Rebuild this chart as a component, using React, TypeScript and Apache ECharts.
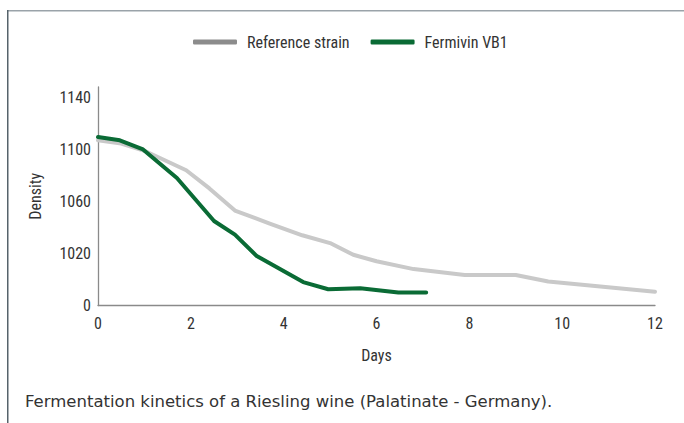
import React, { useEffect, useRef } from "react";
import * as echarts from "echarts";

const refDays = [0, 0.5, 1, 1.9, 2.4, 2.95, 3.7, 4.4, 5, 5.5, 6, 6.8, 7.9, 9, 9.7, 12];
const refDensity = [1107, 1104.5, 1099, 1084, 1070, 1053, 1043, 1034, 1028, 1019, 1014, 1008, 1003.5, 1003.5, 998.5, 990.5];
const vbDays = [0, 0.47, 0.97, 1.7, 2.5, 2.95, 3.42, 4.42, 4.96, 5.65, 6.47, 7.07];
const vbDensity = [1109.5, 1107, 1100, 1078, 1045, 1034.5, 1018, 998, 992.5, 993.3, 990, 990];
const yTickValues = [980, 1020, 1060, 1100, 1140];
const yTickLabels = ["0", "1020", "1060", "1100", "1140"];
const seriesNames = ["Reference strain", "Fermivin VB1"];
const caption = "Fermentation kinetics of a Riesling wine (Palatinate - Germany).";

const NARROW = "'Roboto Condensed', 'DejaVu Sans Condensed', sans-serif";
const W = 400;
const TXT = "#333333";

export default function App() {
  const ref = useRef<HTMLDivElement>(null);
  useEffect(() => {
    if (!ref.current) return;
    const chart = echarts.init(ref.current, null, { renderer: "svg" });
    const refData = refDays.map((d, i) => [d, refDensity[i]]);
    const vbData = vbDays.map((d, i) => [d, vbDensity[i]]);
    chart.setOption({
      animation: false,
      backgroundColor: "#ffffff",
      title: {
        text: caption,
        left: 25,
        top: 393,
        padding: 0,
        textStyle: { fontFamily: "'DejaVu Sans', sans-serif", fontSize: 16.5, fontWeight: "normal", color: "#333333" },
      },
      legend: {
        top: 34,
        left: 193,
        itemWidth: 44,
        itemHeight: 5,
        itemGap: 21,
        padding: 0,
        icon: "roundRect",
        textStyle: { fontFamily: NARROW, fontWeight: W, fontSize: 16, color: TXT, padding: [0, 0, 0, 5] },
        data: [
          { name: seriesNames[0], itemStyle: { color: "#8c8c8c" } },
          { name: seriesNames[1], itemStyle: { color: "#0a6b35" } },
        ],
      },
      grid: { left: 98, right: 29, top: 87, bottom: 117.5 },
      xAxis: {
        type: "value",
        min: 0,
        max: 12,
        interval: 2,
        name: "Days",
        nameLocation: "middle",
        nameGap: 42,
        nameTextStyle: { fontFamily: NARROW, fontWeight: W, fontSize: 16, color: TXT },
        axisLine: { show: true, lineStyle: { color: "#8a8a8a", width: 1.3 } },
        axisTick: { show: false },
        splitLine: { show: false },
        axisLabel: { fontFamily: NARROW, fontWeight: W, fontSize: 16, color: TXT, margin: 10 },
      },
      yAxis: {
        type: "value",
        min: 980,
        max: 1148,
        interval: 40,
        name: "Density",
        nameLocation: "middle",
        nameGap: 55,
        nameTextStyle: { fontFamily: NARROW, fontWeight: W, fontSize: 16, color: TXT },
        axisLine: { show: true, lineStyle: { color: "#8a8a8a", width: 1.3 } },
        axisTick: { show: false },
        splitLine: { show: false },
        axisLabel: {
          fontFamily: NARROW,
          fontWeight: W,
          fontSize: 16,
          color: TXT,
          margin: 7,
          showMaxLabel: false,
          formatter: (v: number) => {
            const i = yTickValues.indexOf(v);
            return i >= 0 ? yTickLabels[i] : "";
          },
        },
      },
      series: [
        {
          name: seriesNames[0],
          type: "line",
          data: refData,
          showSymbol: false,
          symbol: "none",
          color: "#c9c9c9",
          lineStyle: { color: "#c9c9c9", width: 4, cap: "round", join: "round" },
        },
        {
          name: seriesNames[1],
          type: "line",
          data: vbData,
          showSymbol: false,
          symbol: "none",
          color: "#0a6b35",
          lineStyle: { color: "#0a6b35", width: 4, cap: "round", join: "round" },
        },
      ],
      graphic: [
        { type: "rect", shape: { x: 7, y: 10, width: 677, height: 1.5 }, style: { fill: "#9aa3a9" } },
        { type: "rect", shape: { x: 7, y: 10, width: 1.5, height: 413 }, style: { fill: "#56636b" } },
      ],
    });
    return () => chart.dispose();
  }, []);
  return <div ref={ref} style={{ position: "fixed", left: 0, top: 0, width: 684, height: 423 }} />;
}
